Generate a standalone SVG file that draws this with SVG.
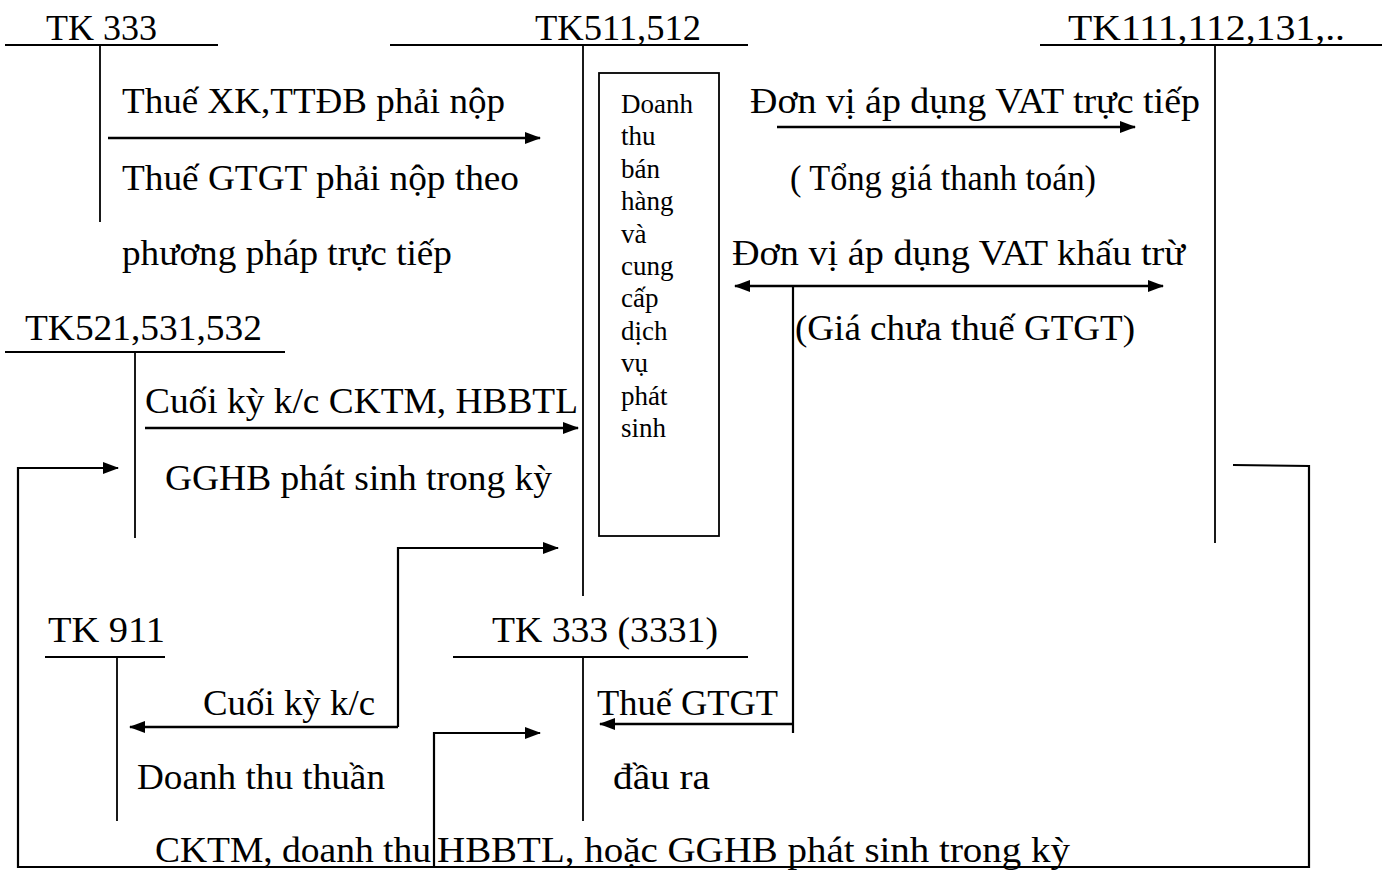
<svg xmlns="http://www.w3.org/2000/svg" width="1382" height="870" viewBox="0 0 1382 870">
<style>
text{font-family:"Liberation Serif","Times New Roman",serif;fill:#000}
.t{font-size:36px}
.b{font-size:27px}
.acc{stroke:#000;stroke-width:1.8;fill:none}
.ar{stroke:#000;stroke-width:2.6;fill:none}
.ln{stroke:#000;stroke-width:2.2;fill:none}
</style>
<defs>
<marker id="ah" viewBox="0 0 16 12" refX="15" refY="6" markerWidth="16" markerHeight="12" markerUnits="userSpaceOnUse" orient="auto-start-reverse">
<path d="M0 0 L16 6 L0 12 Z" fill="#000"/>
</marker>
</defs>
<rect width="1382" height="870" fill="#fff"/>

<g id="tk333">
<text class="t" x="46" y="40" textLength="111" lengthAdjust="spacingAndGlyphs">TK 333</text>
<line class="acc" x1="5" y1="45" x2="218" y2="45"/>
<line class="acc" x1="100" y1="45" x2="100" y2="222"/>
</g>

<g id="tk511">
<text class="t" x="535" y="40" textLength="166" lengthAdjust="spacingAndGlyphs">TK511,512</text>
<line class="acc" x1="390" y1="45" x2="748" y2="45"/>
<line class="acc" x1="583" y1="45" x2="583" y2="596"/>
</g>

<g id="tk111">
<text class="t" x="1068" y="40" textLength="277" lengthAdjust="spacingAndGlyphs">TK111,112,131,..</text>
<line class="acc" x1="1040" y1="45" x2="1382" y2="45"/>
<line class="acc" x1="1215" y1="45" x2="1215" y2="543"/>
</g>

<g id="doanhthu-box">
<rect x="599" y="73" width="120" height="463" fill="none" stroke="#000" stroke-width="1.8"/>
<text class="b" x="621" y="113">Doanh</text>
<text class="b" x="621" y="145">thu</text>
<text class="b" x="621" y="178">bán</text>
<text class="b" x="621" y="210">hàng</text>
<text class="b" x="621" y="243">và</text>
<text class="b" x="621" y="275">cung</text>
<text class="b" x="621" y="307">cấp</text>
<text class="b" x="621" y="340">dịch</text>
<text class="b" x="621" y="372">vụ</text>
<text class="b" x="621" y="405">phát</text>
<text class="b" x="621" y="437">sinh</text>
</g>

<g id="tk521">
<text class="t" x="25" y="340" textLength="237" lengthAdjust="spacingAndGlyphs">TK521,531,532</text>
<line class="acc" x1="5" y1="352" x2="285" y2="352"/>
<line class="acc" x1="135" y1="352" x2="135" y2="538"/>
</g>

<g id="tk911">
<text class="t" x="48" y="642" textLength="117" lengthAdjust="spacingAndGlyphs">TK 911</text>
<line class="acc" x1="45" y1="657" x2="165" y2="657"/>
<line class="acc" x1="117" y1="657" x2="117" y2="821"/>
</g>

<g id="tk3331">
<text class="t" x="492" y="642" textLength="226" lengthAdjust="spacingAndGlyphs">TK 333 (3331)</text>
<line class="acc" x1="453" y1="657" x2="748" y2="657"/>
<line class="acc" x1="583" y1="657" x2="583" y2="821"/>
</g>

<g id="connectors">
<path class="ar" d="M108 138 H540" marker-end="url(#ah)"/>
<path class="ar" d="M777 127 H1135" marker-end="url(#ah)"/>
<path class="ar" d="M735 286 H1163" marker-start="url(#ah)" marker-end="url(#ah)"/>
<path class="ln" d="M793 286 V733"/>
<path class="ar" d="M793 724 H600" marker-end="url(#ah)"/>
<path class="ar" d="M145 428 H578" marker-end="url(#ah)"/>
<path class="ln" d="M1233 465 L1309 466 V867 H18 V468 H118" marker-end="url(#ah)"/>
<path class="ln" d="M398 727 V548 H558" marker-end="url(#ah)"/>
<path class="ar" d="M398 727 H130" marker-end="url(#ah)"/>
<path class="ln" d="M434 867 V733 H540" marker-end="url(#ah)"/>
</g>

<g id="labels">
<text class="t" x="122" y="113" textLength="383" lengthAdjust="spacingAndGlyphs">Thuế XK,TTĐB phải nộp</text>
<text class="t" x="122" y="190" textLength="397" lengthAdjust="spacingAndGlyphs">Thuế GTGT phải nộp theo</text>
<text class="t" x="122" y="265" textLength="330" lengthAdjust="spacingAndGlyphs">phương pháp trực tiếp</text>
<text class="t" x="750" y="113" textLength="450" lengthAdjust="spacingAndGlyphs">Đơn vị áp dụng VAT trực tiếp</text>
<text class="t" x="790" y="190" textLength="306" lengthAdjust="spacingAndGlyphs">( Tổng giá thanh toán)</text>
<text class="t" x="732" y="265" textLength="453" lengthAdjust="spacingAndGlyphs">Đơn vị áp dụng VAT khấu trừ</text>
<text class="t" x="795" y="340" textLength="340" lengthAdjust="spacingAndGlyphs">(Giá chưa thuế GTGT)</text>
<text class="t" x="145" y="413" textLength="433" lengthAdjust="spacingAndGlyphs">Cuối kỳ k/c CKTM, HBBTL</text>
<text class="t" x="165" y="490" textLength="387" lengthAdjust="spacingAndGlyphs">GGHB phát sinh trong kỳ</text>
<text class="t" x="203" y="715" textLength="172" lengthAdjust="spacingAndGlyphs">Cuối kỳ k/c</text>
<text class="t" x="137" y="789" textLength="248" lengthAdjust="spacingAndGlyphs">Doanh thu thuần</text>
<text class="t" x="597" y="715" textLength="181" lengthAdjust="spacingAndGlyphs">Thuế GTGT</text>
<text class="t" x="613" y="789" textLength="97" lengthAdjust="spacingAndGlyphs">đầu ra</text>
<text class="t" y="862"><tspan x="155" textLength="276" lengthAdjust="spacingAndGlyphs">CKTM, doanh thu</tspan> <tspan x="437" textLength="633" lengthAdjust="spacingAndGlyphs">HBBTL, hoặc GGHB phát sinh trong kỳ</tspan></text>
</g>
</svg>
